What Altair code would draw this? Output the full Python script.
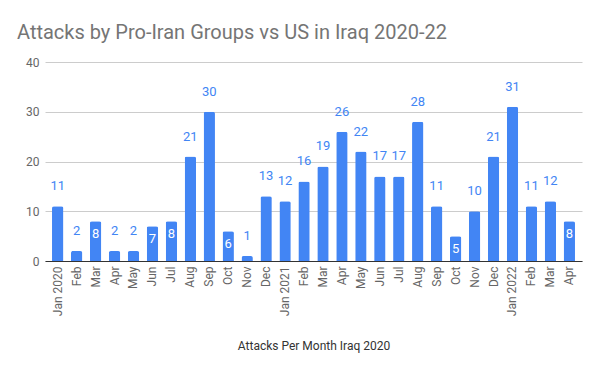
import altair as alt
import pandas as pd

months = ["Jan 2020", "Feb", "Mar", "Apr", "May", "Jun", "Jul", "Aug", "Sep", "Oct", "Nov", "Dec",
          "Jan 2021", "Feb ", "Mar ", "Apr ", "May ", "Jun ", "Jul ", "Aug ", "Sep ", "Oct ", "Nov ", "Dec ",
          "Jan 2022", "Feb  ", "Mar  ", "Apr  "]
attacks = [11, 2, 8, 2, 2, 7, 8, 21, 30, 6, 1, 13,
           12, 16, 19, 26, 22, 17, 17, 28, 11, 5, 10, 21,
           31, 11, 12, 8]

df = pd.DataFrame({"month": months, "attacks": attacks})
BLUE = "#4285F4"
FONT = "Roboto"

x = alt.X("month:N", sort=months,
          scale=alt.Scale(paddingInner=0.4, paddingOuter=0.37),
          axis=alt.Axis(title="Attacks Per Month Iraq 2020", labelAngle=-90, labelAlign="right",
                        labelBaseline="middle", labelPadding=5, ticks=False, domainColor="#333333",
                        labelColor="#666666", labelFontSize=12, labelFont=FONT,
                        titleFont=FONT, titleFontSize=12, titleFontWeight="normal", titleColor="#333333",
                        titleBaseline="alphabetic", titleY=88, grid=False))
y = alt.Y("attacks:Q", scale=alt.Scale(domain=[0, 40]),
          axis=alt.Axis(title=None, values=[0, 10, 20, 30, 40], domain=False, ticks=False,
                        labelPadding=6, labelColor="#666666", labelFontSize=12, labelFont=FONT,
                        gridColor="#cccccc"))

base = alt.Chart(df).encode(x=x, y=y)
bars = base.mark_bar(color=BLUE, cornerRadiusTopLeft=2, cornerRadiusTopRight=2)
outside = base.transform_filter("datum.attacks < 5 || datum.attacks >= 10").mark_text(
    baseline="bottom", dy=-13, color=BLUE, fontSize=13, font=FONT).encode(text="attacks:Q")
inside = base.transform_filter("datum.attacks >= 5 && datum.attacks < 10").mark_text(
    baseline="top", dy=7, color="white", fontSize=13, font=FONT).encode(text="attacks:Q")

chart = (bars + outside + inside).properties(
    width=537, height=199,
    title=alt.TitleParams("Attacks by Pro-Iran Groups vs US in Iraq 2020-22", anchor="start",
                          frame="group", dx=-28, dy=19, offset=16, baseline="alphabetic",
                          font=FONT, fontSize=20, fontWeight="normal", color="#757575"),
    autosize=alt.AutoSizeParams(type="none"),
    padding={"left": 37, "top": 54, "right": 10, "bottom": 100},
).configure_view(stroke=None)

chart.save("out.html", embed_options={"renderer": "svg", "actions": False})
